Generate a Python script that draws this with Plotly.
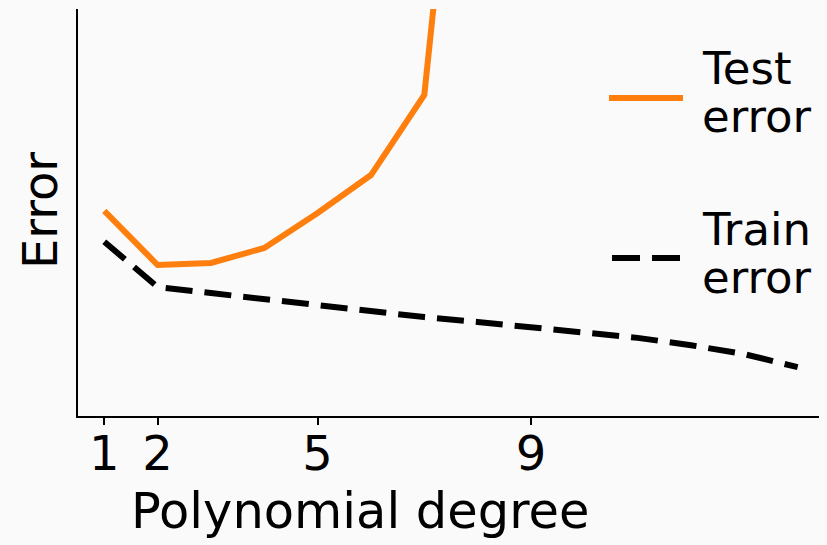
import plotly.graph_objects as go

degrees = list(range(1, 15))
test_degrees = [1, 2, 3, 4, 5, 6, 7, 8]
test_error = [5.04, 3.71, 3.76, 4.13, 4.99, 5.92, 7.89, 20.4]
train_error = [4.28, 3.17, 3.02, 2.87, 2.70, 2.56, 2.43, 2.31, 2.19, 2.06, 1.92, 1.74, 1.52, 1.20]
tick_vals = [1, 2, 5, 9]
tick_text = ["1", "2", "5", "9"]

FONT = "DejaVu Sans"
ORANGE = "#ff7f0e"
BG = "#fafafa"

fig = go.Figure()
fig.add_trace(go.Scatter(x=test_degrees, y=test_error, mode="lines", name="Test error",
                         line=dict(color=ORANGE, width=6)))
fig.add_trace(go.Scatter(x=degrees, y=train_error, mode="lines", name="Train error",
                         line=dict(color="black", width=6, dash="27px,12px")))

W, H = 827, 545
L, R, T, B = 78, 8, 9, 129
pw, ph = W - L - R, H - T - B

def px_x(p):
    return (p - L) / pw

def px_y(p):
    return (H - B - p) / ph

annotations = []
def txt(s, x, y, size=48, **kw):
    annotations.append(dict(text=s, x=px_x(x), y=px_y(y), xref="paper", yref="paper",
                            showarrow=False, font=dict(family=FONT, size=size, color="black"), **kw))

txt("Test", 700, 68, size=45, xanchor="left", yanchor="middle")
txt("error", 700, 116, size=45, xanchor="left", yanchor="middle")
txt("Train", 700, 229, size=45, xanchor="left", yanchor="middle")
txt("error", 700, 277, size=45, xanchor="left", yanchor="middle")
txt("Polynomial degree", 360, 511, size=49.5, xanchor="center", yanchor="middle")
txt("Error", 40, 211, xanchor="center", yanchor="middle", textangle=-90)

shapes = [
    dict(type="line", xref="paper", yref="paper", x0=px_x(609), x1=px_x(683), y0=px_y(98), y1=px_y(98),
         line=dict(color=ORANGE, width=6)),
    dict(type="line", xref="paper", yref="paper", x0=px_x(612), x1=px_x(680), y0=px_y(258), y1=px_y(258),
         line=dict(color="black", width=6, dash="28px,12px")),
]

fig.update_layout(
    width=W, height=H,
    margin=dict(l=L, r=R, t=T, b=B, autoexpand=False),
    paper_bgcolor=BG, plot_bgcolor=BG,
    showlegend=False,
    annotations=annotations,
    shapes=shapes,
    font=dict(family=FONT, size=48, color="black"),
)
fig.update_xaxes(range=[0.507, 14.40], tickvals=tick_vals, ticktext=tick_text,
                 showgrid=False, zeroline=False, showline=True, linecolor="black", linewidth=1.5,
                 ticks="outside", ticklen=7, tickwidth=1.5, tickcolor="black",
                 ticklabelstandoff=-12,
                 tickfont=dict(family=FONT, size=48, color="black"))
fig.update_yaxes(range=[0, 10], showticklabels=False, showgrid=False, zeroline=False,
                 showline=True, linecolor="black", linewidth=1.5, ticks="")

fig.write_html("out.html", config={"displayModeBar": False},
               post_script="document.body.style.margin='0';")
